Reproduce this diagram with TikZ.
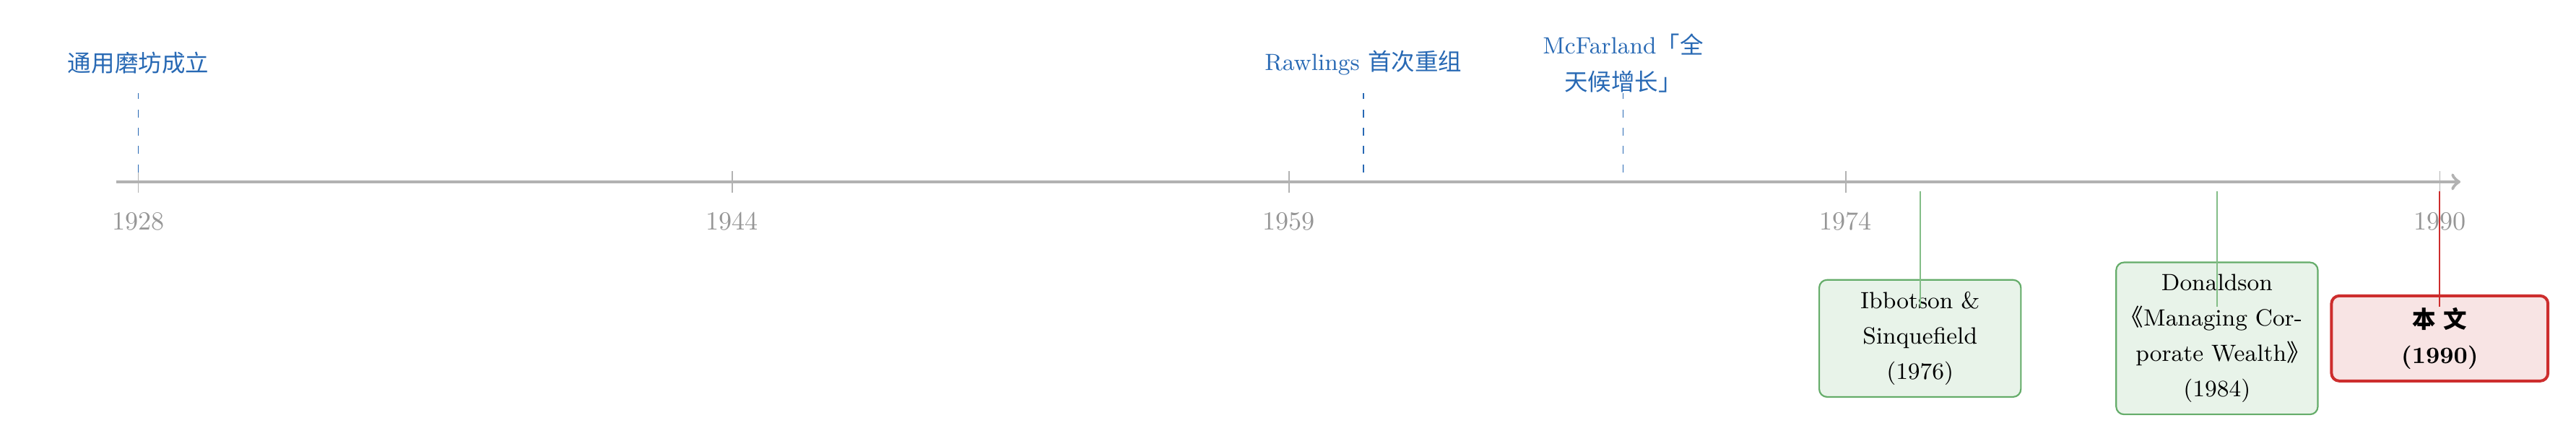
\documentclass[tikz,border=0pt]{standalone}
\usepackage{fontspec}
\newfontfamily\cjk{Noto Sans CJK SC}
\usetikzlibrary{positioning}

\definecolor{axisgray}{RGB}{178,178,178}
\definecolor{yeargray}{RGB}{150,150,150}
\definecolor{eventblue}{RGB}{40,105,180}
\definecolor{workgreen}{RGB}{100,172,105}
\definecolor{workfill}{RGB}{232,243,233}
\definecolor{selfred}{RGB}{205,45,45}
\definecolor{selffill}{RGB}{248,228,228}

\tikzset{
  axisline/.style={axisgray, line width=1.3pt, ->},
  yeartick/.style={axisgray, line width=0.45pt},
  yearlabel/.style={text=yeargray, anchor=north, inner sep=3pt},
  eventlabel/.style={font=\fontsize{9pt}{14.3pt}\selectfont, text=eventblue, align=center},
  eventline/.style={eventblue, line width=0.5pt, dash pattern=on 3pt off 4pt},
  workbox/.style={draw=workgreen, fill=workfill, semithick, rounded corners=3pt,
    text width=2.4cm, align=center, inner sep=4.5pt,
    font=\fontsize{9pt}{13.6pt}\selectfont},
  selfbox/.style={workbox, draw=selfred, fill=selffill, line width=1.1pt, text width=2.6cm,
    font=\fontsize{9pt}{13.6pt}\selectfont\bfseries},
  workline/.style={workgreen!80, line width=0.45pt},
  selfline/.style={selfred, line width=0.5pt}
}
\newcommand{\lbook}{\makebox[0.5em][r]{\cjk 《}}
\newcommand{\rbook}{\makebox[0.5em][l]{\cjk 》}}

\begin{document}
\begin{tikzpicture}
\useasboundingbox (-1.863,-3.492) rectangle (32.836,2.451);

% time axis, 0.5cm per year from 1928
\coordinate (ax-start) at (-0.3,0);
\coordinate (ax-end) at (31.28,0);
\draw[axisline] (ax-start) -- (ax-end);

\foreach \yr in {1928,1944,1959,1974,1990}{ % ticks and year labels
\coordinate (t\yr) at ({(\yr-1928)*0.5},0);
\draw[yeartick] ([yshift=-0.15cm]t\yr) -- ([yshift=0.15cm]t\yr);
\node[yearlabel] (y\yr) at ([yshift=-0.3cm]t\yr) {\yr};
}

% events above the axis
\foreach[count=\i] \yr/\txt in {1928/{\cjk 通用磨坊成立},1961/{Rawlings {\cjk 首次重组}},1968/{McFarland{\cjk「全}\\{\cjk 天候增长」}}}{
\coordinate (ev\i-bot) at ({(\yr-1928)*0.5},0.13);
\coordinate (ev\i-top) at ({(\yr-1928)*0.5},1.2);
\node[eventlabel] (ev\i) at ({(\yr-1928)*0.5},1.6) {\txt};
\draw[eventline] (ev\i-bot) -- (ev\i-top);
}

% works below the axis
\node[workbox] (w1) at (24,-2.11) {Ibbotson \&\\Sinquefield\\(1976)};
\node[workbox] (w2) at (28,-2.11) {Donaldson\\\lbook Managing~Cor-\\porate Wealth\rbook\\(1984)};
\node[selfbox] (w3) at (31,-2.11) {{\cjk 本 文}\\(1990)};

\foreach \w/\st in {w1/workline,w2/workline,w3/selfline}{
\coordinate (\w-top) at (\w |- 0,-0.13);
\draw[\st] (\w-top) -- ([yshift=0.43cm]\w.center);
}

\end{tikzpicture}
\end{document}
